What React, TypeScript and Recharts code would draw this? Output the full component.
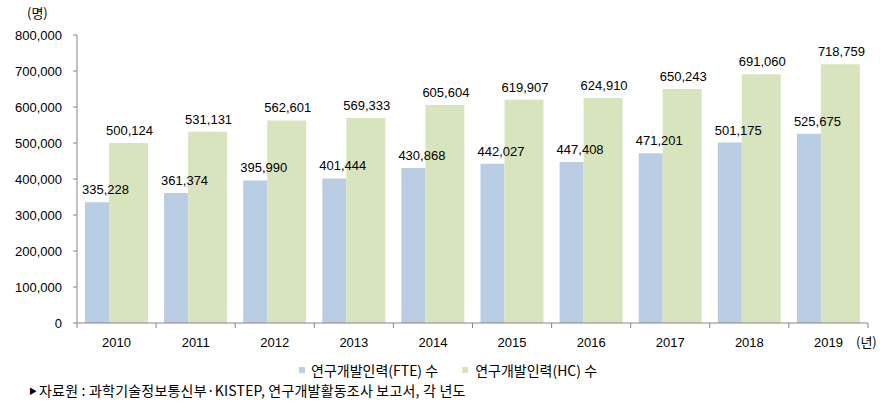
import React from "react";
import { BarChart, Bar, XAxis, YAxis, LabelList } from "recharts";

const years = ["2010", "2011", "2012", "2013", "2014", "2015", "2016", "2017", "2018", "2019"];
const fteValues = [335228, 361374, 395990, 401444, 430868, 442027, 447408, 471201, 501175, 525675];
const hcValues = [500124, 531131, 562601, 569333, 605604, 619907, 624910, 650243, 691060, 718759];
const yTicks = [0, 100000, 200000, 300000, 400000, 500000, 600000, 700000, 800000];
const seriesNames = ["연구개발인력(FTE) 수", "연구개발인력(HC) 수"];
const unitY = "(명)";
const unitX = "(년)";
const sourceNote = "자료원 : 과학기술정보통신부·KISTEP, 연구개발활동조사 보고서, 각 년도";

const data = years.map((y, i) => ({ year: y, fte: fteValues[i], hc: hcValues[i] }));

const BLUE = "#B9CDE5";
const GREEN = "#D7E4BD";
const AXIS = "#868686";
const NUM_FONT = "'Liberation Sans', Arial, sans-serif";
const KR_FONT = "'Noto Sans CJK KR', 'Noto Sans', sans-serif";

const fmt = (v: number) => v.toLocaleString("en-US");

const makeLabel = (dx: number) => (props: any) => {
  const { x, y, width, value } = props;
  return (
    <text
      x={x + width / 2 + dx}
      y={y - 8}
      textAnchor="middle"
      fontFamily={NUM_FONT}
      fontSize={13}
      fill="#000"
    >
      {fmt(value)}
    </text>
  );
};

const HALF_BAND = 39.55;

const XTick = (props: any) => {
  const { x, y, payload, index } = props;
  const top = y - 5;
  return (
    <g>
      <line x1={x - HALF_BAND} x2={x - HALF_BAND} y1={top} y2={top + 5} stroke={AXIS} />
      {index === years.length - 1 && (
        <line x1={x + HALF_BAND} x2={x + HALF_BAND} y1={top} y2={top + 5} stroke={AXIS} />
      )}
      <text x={x} y={y + 19} textAnchor="middle" fontFamily={NUM_FONT} fontSize={13} fill="#000">
        {payload.value}
      </text>
    </g>
  );
};

export default function App() {
  return (
    <div style={{ position: "absolute", left: 0, top: 0, width: 892, height: 417, background: "#fff" }}>
      <BarChart
        width={892}
        height={417}
        data={data}
        margin={{ top: 35, right: 24, bottom: 64, left: 0 }}
        barGap={0}
        barCategoryGap={0}
      >
        <XAxis
          dataKey="year"
          axisLine={{ stroke: AXIS }}
          tickLine={false}
          tickSize={5}
          tickMargin={0}
          height={30}
          interval={0}
          tick={<XTick />}
        />
        <YAxis
          width={77}
          domain={[0, 800000]}
          ticks={yTicks}
          tickFormatter={fmt}
          axisLine={{ stroke: AXIS }}
          tickLine={{ stroke: AXIS }}
          tickSize={4}
          tickMargin={11}
          tick={{ fontFamily: NUM_FONT, fontSize: 13, fill: "#000" }}
          interval={0}
        />
        <Bar dataKey="fte" fill={BLUE} barSize={24} isAnimationActive={false}>
          <LabelList dataKey="fte" content={makeLabel(8.5)} />
        </Bar>
        <Bar dataKey="hc" fill={GREEN} barSize={39} isAnimationActive={false}>
          <LabelList dataKey="hc" content={makeLabel(1)} />
        </Bar>
      </BarChart>

      <div style={{ position: "absolute", left: 27, top: 5, fontFamily: KR_FONT, fontSize: 13, color: "#000", lineHeight: "16px" }}>
        {unitY}
      </div>
      <div style={{ position: "absolute", left: 856, top: 334, fontFamily: KR_FONT, fontSize: 13, color: "#000", lineHeight: "16px" }}>
        {unitX}
      </div>

      <div style={{ position: "absolute", left: 299, top: 362, fontFamily: KR_FONT, fontSize: 14, color: "#000", lineHeight: "16px", display: "flex", alignItems: "center", whiteSpace: "nowrap" }}>
        <span style={{ display: "inline-block", width: 6, height: 6, background: BLUE, marginRight: 6 }} />
        <span>{seriesNames[0]}</span>
        <span style={{ display: "inline-block", width: 6, height: 6, background: GREEN, marginLeft: 24, marginRight: 7 }} />
        <span>{seriesNames[1]}</span>
      </div>

      <div style={{ position: "absolute", left: 29, top: 382, fontFamily: KR_FONT, fontSize: 14, color: "#000", lineHeight: "17px", display: "flex", alignItems: "center", whiteSpace: "nowrap" }}>
        <span style={{ fontSize: 8, marginRight: 2 }}>▶</span>
        <span style={{ letterSpacing: 0.2 }}>{sourceNote}</span>
      </div>
    </div>
  );
}
